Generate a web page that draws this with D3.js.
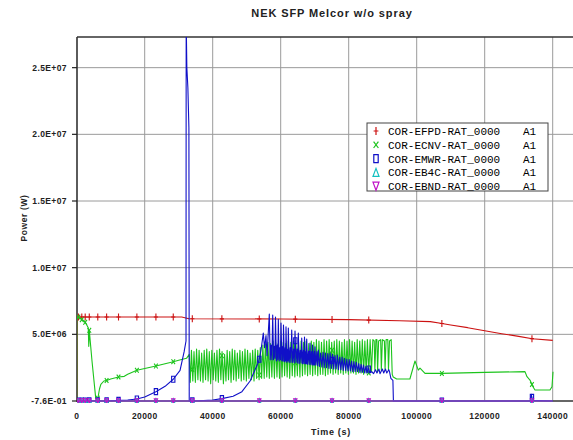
<!DOCTYPE html>
<html>
<head>
<meta charset="utf-8">
<script src="https://cdn.jsdelivr.net/npm/d3@7"></script>
<style>
  body { margin: 0; background: #fff; }
</style>
</head>
<body>
<svg id="chart" width="573" height="440" font-family="'Liberation Sans', Arial, sans-serif"></svg>
<script>
// values in MW, times in s
var xTicks = [0, 20000, 40000, 60000, 80000, 100000, 120000, 140000];
var yTicks = [0, 5e6, 1e7, 1.5e7, 2e7, 2.5e7];
var yTickLabels = ["-7.6E-01", "5.0E+06", "1.0E+07", "1.5E+07", "2.0E+07", "2.5E+07"];
var legendNames = ["COR-EFPD-RAT_0000", "COR-ECNV-RAT_0000", "COR-EMWR-RAT_0000", "COR-EB4C-RAT_0000", "COR-EBND-RAT_0000"];
var markerTimes = [500, 1500, 2500, 3700, 6200, 8800, 12300, 17700, 23300, 28400, 34000, 42700, 53700, 64300, 75100, 85900, 107400, 133900];

var efpd = [[0,0],[50,6.3],[30900,6.3],[33000,6.17],[60000,6.15],[80000,6.1],[95000,6.02],[104000,5.95],
  [107000,5.83],[110000,5.7],[115000,5.5],[120000,5.27],[125000,5.05],[130000,4.85],[134000,4.67],[140000,4.55]];

var ecnv = [[0,0],[30,6.2],[500,6.3],[1500,6.1],[2500,5.9],[3400,5.5],[3550,4.1],[3700,5.3],[4500,3.0],[5600,0.2],
  [6000,0.05],[6300,0.3],[6700,0.9],[7100,1.25],[8000,1.5],[9000,1.55],[10000,1.65],[12300,1.8],[14000,1.85],
  [15000,2.0],[17700,2.3],[21000,2.5],[23300,2.62],[26000,2.8],[28400,2.95],[30000,3.05],[32300,3.2],[33100,3.5],
  [33400,1.4],[33750,3.8],[34150,1.5],[34500,3.7],[34900,1.4],[35250,3.9],[35650,1.6],[36000,3.8],[36400,1.5],
  [36750,3.6],[37150,1.4],[37500,3.8],[37900,1.6],[38250,3.9],[38650,1.5],[39000,3.7],[39400,1.3],[39750,3.8],
  [40150,1.6],[40500,3.6],[40900,1.5],[41250,3.8],[41650,1.4],[42000,3.9],[42400,1.6],[42750,3.7],[43150,1.3],
  [43500,3.5],[43900,1.5],[44250,3.8],[44650,1.6],[45000,3.7],[45400,1.4],[45750,3.9],[46150,1.6],[46500,3.8],
  [46900,1.5],[47250,3.6],[47650,1.7],[48000,3.8],[48400,1.5],[48750,3.7],[49150,1.6],[49500,3.9],[49900,1.5],
  [50250,3.8],[50650,1.7],[51000,3.6],[51400,1.6],[51750,3.8],[52150,1.5],[52500,3.9],[52900,1.7],[53250,3.8],
  [53650,1.6],[54000,4.0],[54400,1.7],[54750,4.2],[55150,1.7],[55500,4.3],[55900,1.8],[56250,4.4],[56650,1.7],
  [57000,4.3],[57400,1.8],[57750,4.5],[58150,1.7],[58500,4.4],[58900,1.8],[59250,4.3],[59650,1.7],[60000,4.5],
  [60400,1.8],[60750,4.4],[61150,1.9],[61500,4.3],[61900,1.8],[62250,4.5],[62650,1.7],[63000,4.4],[63400,1.9],
  [63750,4.5],[64150,1.8],[64500,4.3],[64900,1.9],[65250,4.4],[65650,1.8],[66000,4.5],[66400,1.9],[66750,4.4],
  [67150,2.0],[67500,4.5],[67900,1.9],[68250,4.3],[68650,2.0],[69000,4.5],[69400,1.9],[69750,4.4],[70150,2.0],
  [70500,4.6],[70900,1.9],[71250,4.5],[71650,2.0],[72000,4.4],[72400,2.0],[72750,4.6],[73150,1.9],[73500,4.5],
  [73900,2.0],[74250,4.6],[74650,2.1],[75000,4.4],[75400,2.0],[75750,4.5],[76150,2.1],[76500,4.6],[76900,2.0],
  [77250,4.5],[77650,2.1],[78000,4.4],[78400,2.0],[78750,4.6],[79150,2.1],[79500,4.5],[79900,2.0],[80250,4.6],
  [80650,2.1],[81000,4.5],[81400,2.1],[81750,4.4],[82150,2.0],[82500,4.6],[82900,2.1],[83250,4.5],[83650,2.1],
  [84000,4.6],[84400,2.0],[84750,4.5],[85150,2.1],[85500,4.6],[85900,2.1],[86300,4.6],[86700,2.2],[87100,4.6],
  [87500,4.5],[87700,2.3],[88000,4.6],[88300,4.6],[88500,2.2],[88800,4.5],[89400,4.6],[89600,2.3],[89900,4.6],
  [90500,4.5],[90700,2.4],[91000,4.6],[91500,4.6],[91700,2.3],[92000,4.5],[92500,4.6],[92800,2.0],[93100,1.8],
  [94100,1.65],[98000,1.65],[99500,3.0],[100470,2.32],[100970,2.47],[102440,2.07],[107350,2.07],[120000,2.15],
  [131850,2.2],[132440,1.82],[133320,1.57],[134200,1.07],[134790,0.82],[139200,0.82],[139790,1.07],[140090,2.2]];

var emwr = [[0,0],[10000,0.02],[15000,0.08],[17700,0.15],[20000,0.3],[23300,0.7],[26000,1.1],[28400,1.63],
  [30400,2.3],[31600,3.7],[32150,4.5],[32200,28.5],[32400,25],[32700,23.5],[33000,20.5],[33100,0],[36000,0.02],
  [40000,0.08],[42700,0.18],[46000,0.35],[48600,0.7],[51000,1.5],[53600,3.0],[54200,3.8],[54880,5.1],[55240,4.0],
  [55680,4.9],[55970,3.4],[56650,6.52],[56900,3.1],[57150,4.2],[57400,3.1],[57650,6.45],[57900,3.1],[58150,4.1],
  [58300,3.2],[58470,6.3],[58750,3.0],[59000,4.2],[59150,3.1],[59300,6.12],[59550,3.0],[59800,4.0],[59950,3.1],
  [60090,5.85],[60350,3.0],[60600,4.1],[60700,3.0],[60820,5.7],[61100,2.95],[61350,4.0],[61450,3.0],[61560,5.57],
  [61800,2.9],[62050,3.9],[62150,3.0],[62240,5.47],[62500,2.9],[62800,4.0],[63000,2.9],[63240,5.32],[63500,2.9],
  [63800,3.9],[64000,2.85],[64210,5.25],[64500,2.9],[64800,3.9],[65000,2.85],[65180,5.1],[65450,2.8],[65750,3.8],
  [66000,2.85],[66180,4.72],[66450,2.8],[66700,3.8],[66850,2.8],[67000,4.8],[67250,2.8],[67450,3.7],[67550,2.8],
  [67650,4.65],[67900,2.75],[68200,3.75],[68400,2.75],[68620,4.35],[68850,2.75],[69100,3.7],[69250,2.7],
  [69350,4.2],[69600,2.7],[69850,3.7],[69950,2.7],[70090,4.07],[70350,2.7],[70650,3.7],[70850,2.65],[71060,3.82],
  [71400,2.6],[71750,3.6],[72100,2.55],[72450,3.65],[72800,2.5],[73150,3.6],[73500,2.5],[73850,3.55],[74200,2.45],
  [74550,3.6],[74900,2.45],[75250,3.5],[75600,2.4],[75950,3.4],[76300,2.4],[76650,3.45],[77000,2.35],[77350,3.3],
  [77700,2.35],[78050,3.3],[78400,2.3],[78750,3.2],[79100,2.3],[79450,3.15],[79800,2.25],[80150,3.1],[80500,2.25],
  [80850,3.0],[81200,2.2],[81550,2.95],[81900,2.2],[82250,2.9],[82600,2.2],[82950,2.8],[83300,2.15],[83650,2.75],
  [84000,2.15],[84350,2.7],[84700,2.1],[85050,2.6],[85400,2.1],[85800,2.5],[86200,2.1],[86800,2.2],[87300,2.05],
  [87900,2.35],[88300,2.1],[88900,2.4],[89200,2.05],[89900,2.4],[90300,2.1],[90800,2.4],[91200,2.1],[91800,2.35],
  [92000,2.2],[92400,1.7],[93000,1.55],[93150,0],[133400,0],[133700,0.5],[134100,0.05],[140000,0]];

var eb4c = [[0,0],[140000,0]];
var ebnd = [[0,0],[140000,0]];

var seriesList = [
  { name: legendNames[0], data: efpd, color: "#cc1111", mark: "plus" },
  { name: legendNames[1], data: ecnv, color: "#1cc41c", mark: "cross" },
  { name: legendNames[2], data: emwr, color: "#1010c8", mark: "square" },
  { name: legendNames[3], data: eb4c, color: "#10c0c0", mark: "tri" },
  { name: legendNames[4], data: ebnd, color: "#c010c8", mark: "itri" }
];

var svg = d3.select("#chart");
var plotLeft = 77, plotTop = 37, plotBottom = 401, plotRight = 573;

var x = d3.scaleLinear().domain([0, 140000]).range([76.7, 552.7]);
var y = d3.scaleLinear().domain([-0.76, 27.3e6]).range([plotBottom, plotTop]);

// grid
svg.append("g").selectAll("line").data(xTicks.slice(1)).enter().append("line")
  .attr("x1", d => x(d)).attr("x2", d => x(d)).attr("y1", plotTop).attr("y2", plotBottom)
  .attr("stroke", "#9a9a9a").attr("stroke-width", 1);
svg.append("g").selectAll("line").data(yTicks.slice(1)).enter().append("line")
  .attr("x1", plotLeft).attr("x2", plotRight).attr("y1", d => y(d)).attr("y2", d => y(d))
  .attr("stroke", "#9a9a9a").attr("stroke-width", 1);

// frame
svg.append("line").attr("x1", plotLeft).attr("x2", plotRight).attr("y1", plotTop).attr("y2", plotTop)
  .attr("stroke", "#333").attr("stroke-width", 1.3);
svg.append("line").attr("x1", plotLeft).attr("x2", plotRight).attr("y1", plotBottom).attr("y2", plotBottom)
  .attr("stroke", "#333").attr("stroke-width", 1.3);
svg.append("line").attr("x1", plotLeft).attr("x2", plotLeft).attr("y1", plotTop).attr("y2", plotBottom + 1)
  .attr("stroke", "#333").attr("stroke-width", 1.6);

// y ticks + labels
var yAxis = svg.append("g");
yAxis.selectAll("line").data(yTicks).enter().append("line")
  .attr("x1", plotLeft - 5).attr("x2", plotLeft).attr("y1", d => y(d)).attr("y2", d => y(d))
  .attr("stroke", "#222").attr("stroke-width", 1.2);
yAxis.selectAll("text").data(yTicks).enter().append("text")
  .attr("x", 67).attr("y", d => y(d) + 3)
  .attr("text-anchor", "end").attr("font-size", "8.5px").attr("font-weight", "bold")
  .attr("letter-spacing", "0.4px").attr("fill", "#222")
  .text((d, i) => yTickLabels[i]);

// x labels
svg.append("g").selectAll("text").data(xTicks).enter().append("text")
  .attr("x", d => x(d)).attr("y", 419)
  .attr("text-anchor", "middle").attr("font-size", "8.5px").attr("font-weight", "bold")
  .attr("letter-spacing", "0.4px").attr("fill", "#222")
  .text(d => d);

// titles
svg.append("text").attr("x", 332).attr("y", 17).attr("text-anchor", "middle")
  .attr("font-size", "11px").attr("font-weight", "bold").attr("letter-spacing", "0.9px").attr("fill", "#222")
  .text("NEK SFP Melcor w/o spray");
svg.append("text").attr("x", 331).attr("y", 435).attr("text-anchor", "middle")
  .attr("font-size", "9px").attr("font-weight", "bold").attr("letter-spacing", "0.7px").attr("fill", "#222")
  .text("Time (s)");
svg.append("text").attr("transform", "translate(27,218) rotate(-90)").attr("text-anchor", "middle")
  .attr("font-size", "8.5px").attr("font-weight", "bold").attr("letter-spacing", "0.6px").attr("fill", "#222")
  .text("Power (W)");

// plot clip
svg.append("clipPath").attr("id", "clip").append("rect")
  .attr("x", plotLeft).attr("y", plotTop).attr("width", plotRight - plotLeft).attr("height", plotBottom - plotTop + 2);

var plot = svg.append("g").attr("clip-path", "url(#clip)");

var line = d3.line().x(d => x(d[0])).y(d => y(d[1] * 1e6));
var bis = d3.bisector(d => d[0]).left;

function valueAt(data, t) {
  var i = bis(data, t);
  if (i <= 0) return data[0][1];
  if (i >= data.length) return data[data.length - 1][1];
  var a = data[i - 1], b = data[i];
  return a[1] + (b[1] - a[1]) * (t - a[0]) / (b[0] - a[0]);
}

function markPath(type, s) {
  if (type == "plus") return "M0," + (-s) + "V" + s + "M" + (-s * 0.6) + ",0H" + (s * 0.6);
  if (type == "cross") return "M" + (-s * 0.6) + "," + (-s * 0.8) + "L" + (s * 0.6) + "," + (s * 0.8) +
    "M" + (-s * 0.6) + "," + (s * 0.8) + "L" + (s * 0.6) + "," + (-s * 0.8);
  if (type == "square") return "M" + (-s * 0.55) + "," + (-s) + "H" + (s * 0.55) + "V" + s + "H" + (-s * 0.55) + "Z";
  if (type == "tri") return "M0," + (-s) + "L" + (s * 0.75) + "," + s + "H" + (-s * 0.75) + "Z";
  return "M0," + s + "L" + (s * 0.75) + "," + (-s) + "H" + (-s * 0.75) + "Z";
}

seriesList.forEach(function (sr) {
  plot.append("path").datum(sr.data)
    .attr("d", line).attr("fill", "none")
    .attr("stroke", sr.color).attr("stroke-width", 1.1).attr("stroke-linejoin", "round");
  var size = sr.mark == "plus" ? 3.5 : sr.mark == "itri" || sr.mark == "tri" ? 2.2 : 3;
  plot.append("g").selectAll("path").data(markerTimes).enter().append("path")
    .attr("transform", t => "translate(" + x(t) + "," + y(valueAt(sr.data, t) * 1e6) + ")")
    .attr("d", markPath(sr.mark, size))
    .attr("fill", "none").attr("stroke", sr.color).attr("stroke-width", 1.1);
});

// legend
var lg = svg.append("g").attr("transform", "translate(367,123)");
lg.append("rect").attr("width", 181).attr("height", 68)
  .attr("fill", "#fff").attr("stroke", "#444").attr("stroke-width", 1);
seriesList.forEach(function (sr, i) {
  var yy = 8 + i * 13.8;
  lg.append("path").attr("transform", "translate(9," + yy + ")")
    .attr("d", markPath(sr.mark, 4)).attr("fill", "none")
    .attr("stroke", sr.color).attr("stroke-width", 1.2);
  lg.append("text").attr("x", 21).attr("y", yy + 4)
    .attr("font-family", "'Liberation Mono', 'Courier New', monospace").attr("font-size", "11px")
    .attr("fill", "#000").text(sr.name);
  lg.append("text").attr("x", 156).attr("y", yy + 4)
    .attr("font-family", "'Liberation Mono', 'Courier New', monospace").attr("font-size", "11px")
    .attr("fill", "#000").text("A1");
});
</script>
</body>
</html>
